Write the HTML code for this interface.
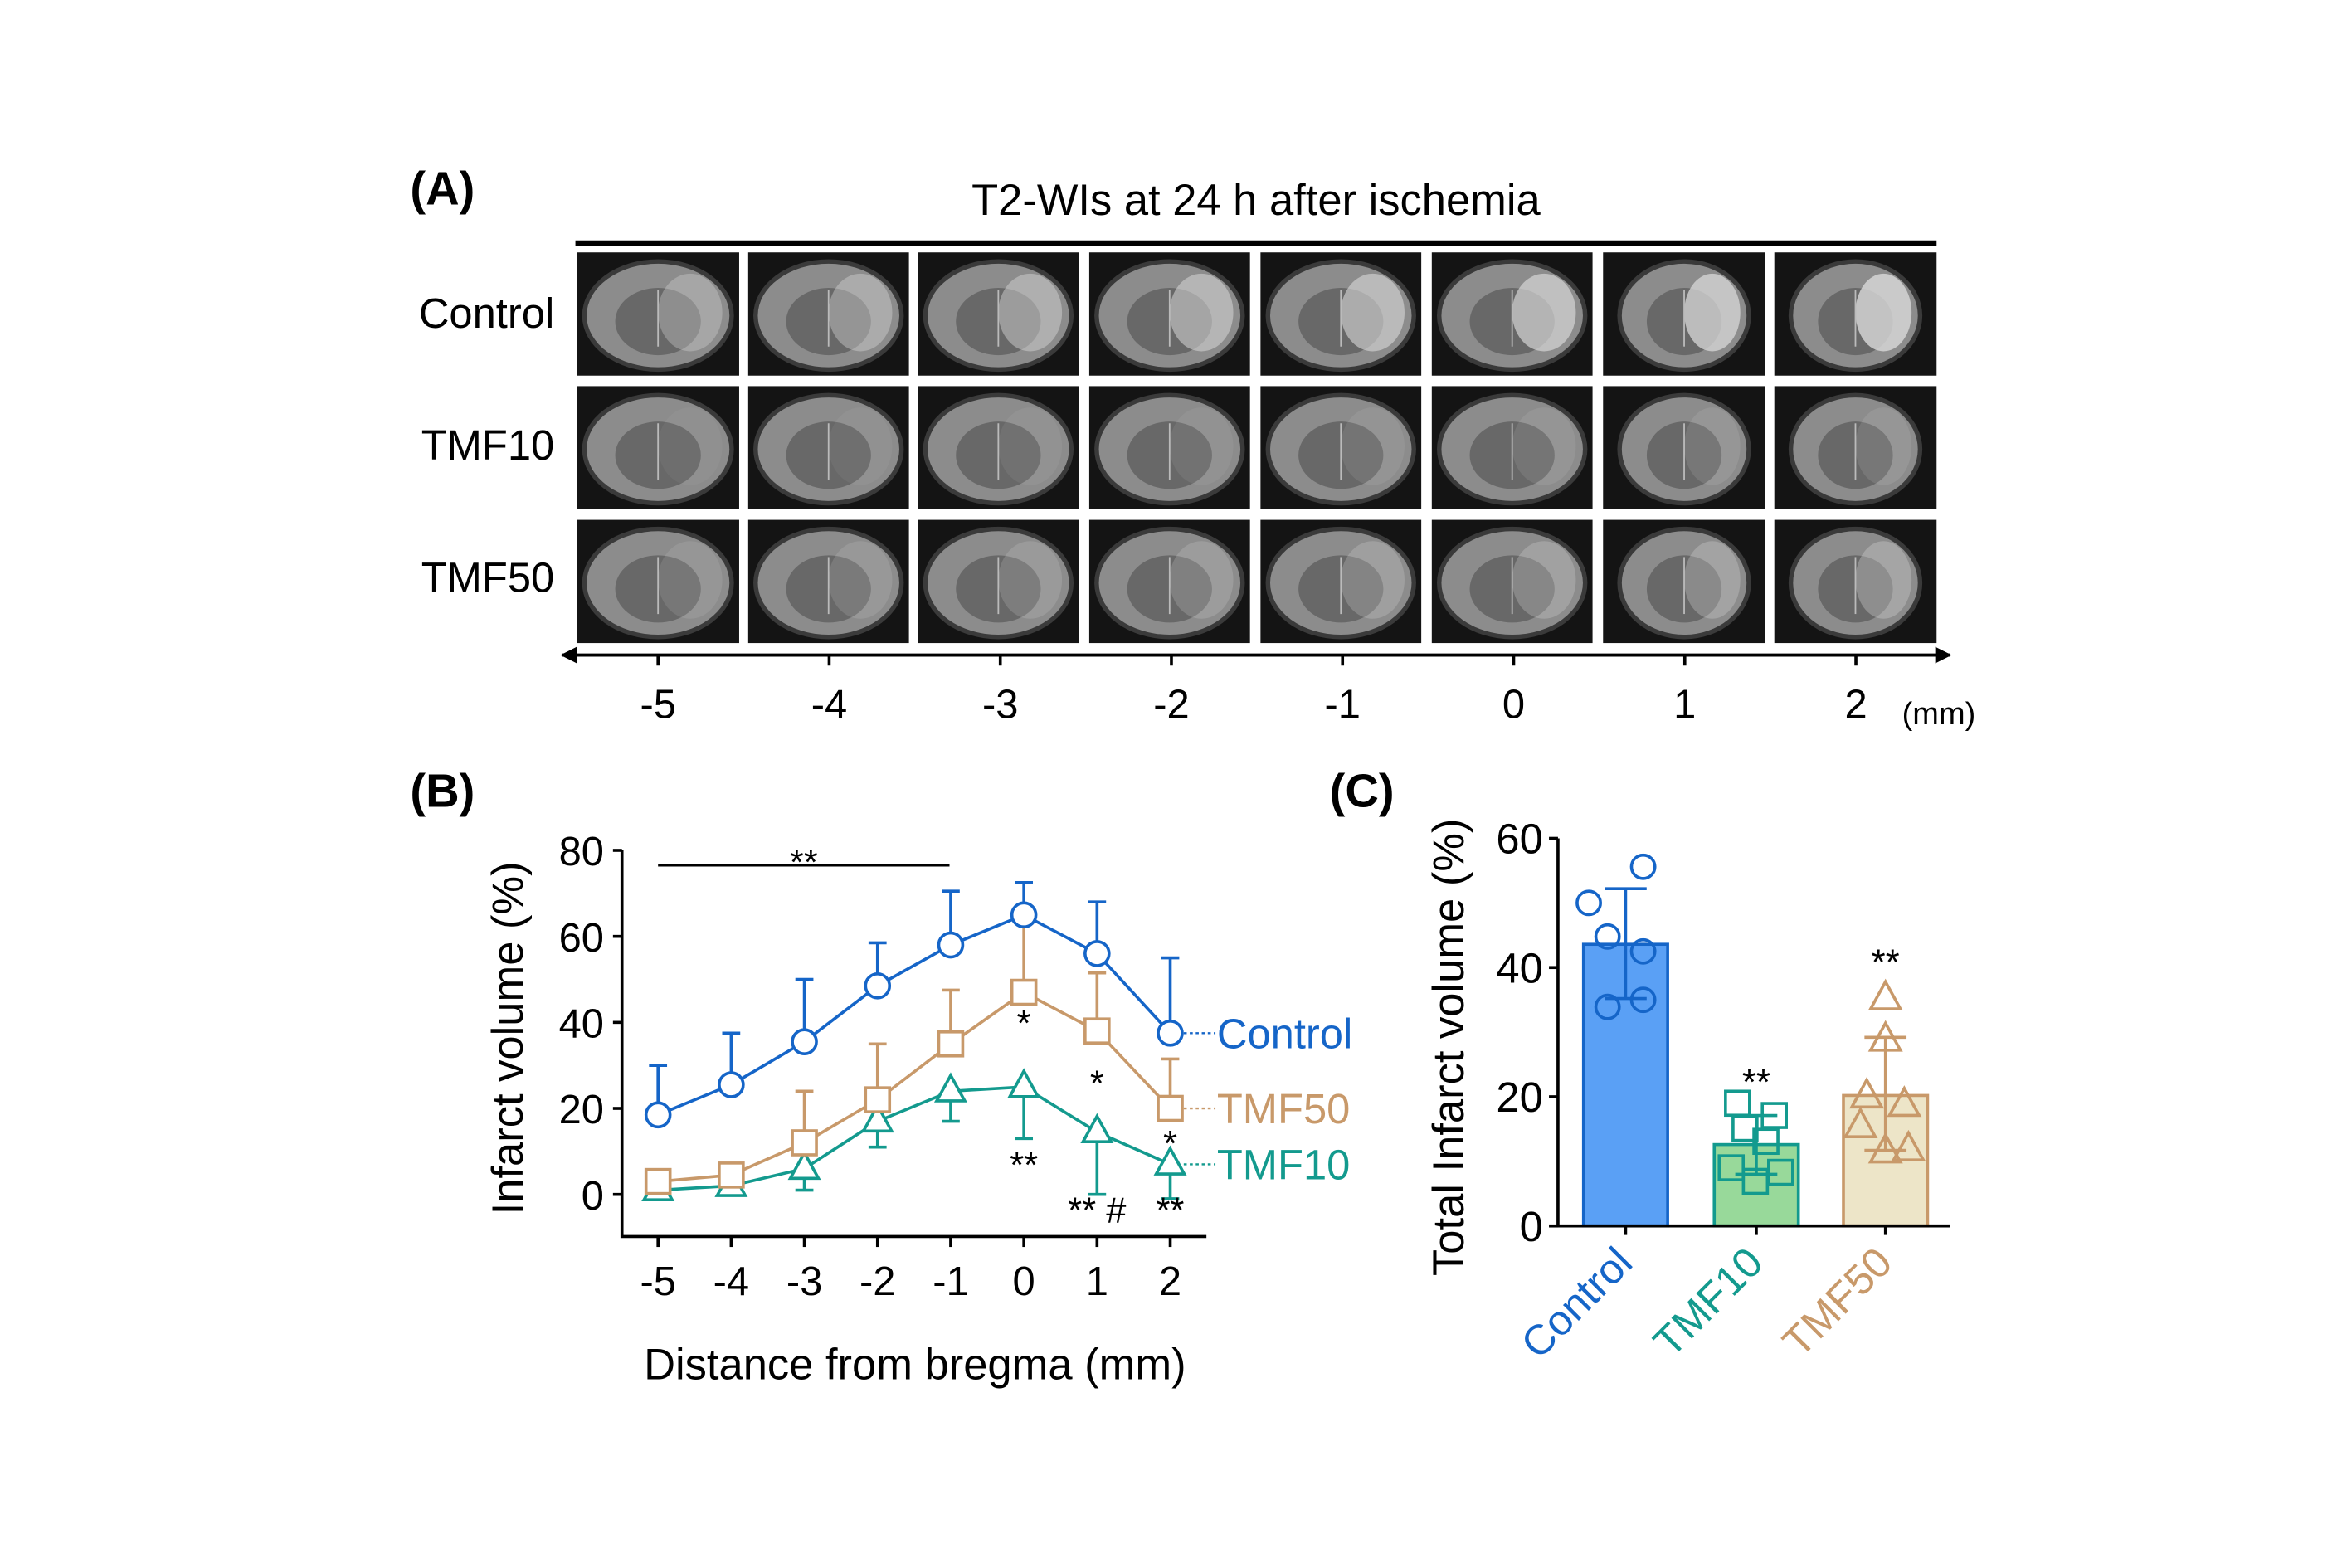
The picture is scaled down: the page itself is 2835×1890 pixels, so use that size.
<!DOCTYPE html>
<html><head><meta charset="utf-8">
<style>
html,body{margin:0;padding:0;background:#fff;}
svg{display:block;font-family:"Liberation Sans",Arial,sans-serif;}
</style></head>
<body>
<svg id="fig" width="2835" height="1890" viewBox="0 0 1565.5 1043.66" xmlns="http://www.w3.org/2000/svg">
<defs>
<marker id="ah" viewBox="0 0 10 10" refX="9" refY="5" markerWidth="5" markerHeight="5" orient="auto-start-reverse"><path d="M0,0 L10,5 L0,10 z" fill="#000"/></marker>
</defs>
<g id="panelA">
<text x="273" y="136" font-size="31" font-weight="bold">(A)</text>
<text x="836" y="143" font-size="29" text-anchor="middle">T2-WIs at 24 h after ischemia</text>
<rect x="383" y="160" width="906" height="4" fill="#000"/>
<text x="369" y="218" font-size="28" text-anchor="end">Control</text>
<text x="369" y="306" font-size="28" text-anchor="end">TMF10</text>
<text x="369" y="394" font-size="28" text-anchor="end">TMF50</text>
<g id="mri"></g>
<line x1="374" y1="436" x2="1298" y2="436" stroke="#000" stroke-width="2.2" marker-start="url(#ah)" marker-end="url(#ah)"/>
<g id="aticks"></g>
<text x="1266" y="482" font-size="21">(mm)</text>
</g>
<g id="panelB">
<text x="273" y="537" font-size="31" font-weight="bold">(B)</text>
</g>
<g id="panelC">
<text x="885" y="537" font-size="31" font-weight="bold">(C)</text>
</g>
</svg>
<script>
// ---- Panel B data ----
const distances = [-5,-4,-3,-2,-1,0,1,2];
const controlMean = [18.5,25.5,35.5,48.5,58,65,56,37.5];
const controlUpper = [30,37.5,50,58.5,70.5,72.5,68,55];
const tmf50Mean = [3,4.5,12,22,35,47,38,20];
const tmf50Upper = [5,6.5,24,35,47.5,63,51.5,31.5];
const tmf10Mean = [1,2,6,17,24,25,14.5,7];
const tmf10Lower = [1,2,1,11,17,13,0,-1];
const yTicksB = [0,20,40,60,80];
// ---- Panel C data ----
const groups = ['Control','TMF10','TMF50'];
const groupMeans = [43.6,12.6,20.2];
const groupSDhi = [52.2,17.1,29.2];
const groupSDlo = [35.2,8.0,11.7];
const controlPoints = [50.0,44.8,42.5,55.6,33.9,35.0];
const tmf10Points = [19.0,15.1,17.1,13.1,9.0,8.3,6.9];
const tmf50Points = [35.2,28.8,20.0,18.7,15.4,11.8,11.5];
const yTicksC = [0,20,40,60];
// ---- Panel A ----
const bregmaTicks = [-5,-4,-3,-2,-1,0,1,2];

const NS='http://www.w3.org/2000/svg';
function mk(tag, attrs, parent){const e=document.createElementNS(NS,tag);for(const k in attrs)e.setAttribute(k,attrs[k]);parent.appendChild(e);return e;}
const C_BLUE='#1565c8', C_TEAL='#139a8e', C_TAN='#c8996a';

// Panel A: MRI grid
const mri=document.getElementById('mri');
const colX=[384,498,611,725,839,953,1067,1181], colW=[108,107,107,107,107,107,108,108];
const rowY=[168,257,346], rowH=82;
const infarct=[0.85,0.15,0.35];
for(let r=0;r<3;r++)for(let c=0;c<8;c++){
 const g=mk('g',{},mri);
 
 
 const x=colX[c],y=rowY[r],w=colW[c];
 mk('rect',{x:x,y:y,width:w,height:rowH,fill:'#141414'},g);
 const cx=x+w/2, cy=y+rowH/2+1;
 const bw=w*0.44-(c>5?6:0), bh=rowH*0.42;
 mk('ellipse',{cx:cx,cy:cy,rx:bw+3,ry:bh+3,fill:'#3a3a3a'},g);
 mk('ellipse',{cx:cx,cy:cy,rx:bw,ry:bh,fill:'#8c8c8c'},g);
 mk('ellipse',{cx:cx,cy:cy+4,rx:bw*0.6,ry:bh*0.65,fill:'#686868'},g);
 mk('ellipse',{cx:cx+bw*0.45,cy:cy-2,rx:bw*0.45,ry:bh*0.75,fill:'#d8d8d8','fill-opacity':infarct[r]*(0.4+c*0.08)},g);
 mk('line',{x1:cx,y1:cy-bh*0.5,x2:cx,y2:cy+bh*0.6,stroke:'#bbb','stroke-width':1},g);
}
const at=document.getElementById('aticks');
const xA=d=>438+(d+5)*113.9;
bregmaTicks.forEach(d=>{
 const l=mk('line',{x1:xA(d),y1:436,x2:xA(d),y2:443,stroke:'#000','stroke-width':2},at);
 
 
 const t=mk('text',{x:xA(d),y:478,'font-size':27,'text-anchor':'middle'},at);
 
 
 t.textContent=d;
});

// Panel B
const pB=document.getElementById('panelB');
const xB=d=>438+(d+5)*48.7;
const yB=v=>795-v*2.8625;
let e;
e=mk('path',{d:`M414,566 V823 H803`,fill:'none',stroke:'#000','stroke-width':2},pB);


yTicksB.forEach(v=>{
 e=mk('line',{x1:408,y1:yB(v),x2:414,y2:yB(v),stroke:'#000','stroke-width':2},pB);
 
 
 e=mk('text',{x:402,y:yB(v)+10,'font-size':27,'text-anchor':'end'},pB);
 
 
 e.textContent=v;
});
distances.forEach(d=>{
 e=mk('line',{x1:xB(d),y1:823,x2:xB(d),y2:830,stroke:'#000','stroke-width':2},pB);
 
 
 e=mk('text',{x:xB(d),y:862,'font-size':27,'text-anchor':'middle'},pB);
 
 
 e.textContent=d;
});
e=mk('text',{x:609,y:918,'font-size':29,'text-anchor':'middle'},pB);


e.textContent='Distance from bregma (mm)';
e=mk('text',{x:0,y:0,'font-size':29,'text-anchor':'middle',transform:'translate(348,691) rotate(-90)'},pB);


e.textContent='Infarct volume (%)';
e=mk('line',{x1:438,y1:576,x2:632,y2:576,stroke:'#000','stroke-width':1.5},pB);


e=mk('text',{x:535,y:582,'font-size':24,'text-anchor':'middle'},pB);


e.textContent='**';

function errB(d,v1,v2,col){
 e=mk('path',{d:`M${xB(d)},${yB(v1)} V${yB(v2)} M${xB(d)-6},${yB(v2)} h12`,stroke:col,'stroke-width':2,fill:'none'},pB);
 
 
}
function lineB(arr,col,name){
 e=mk('polyline',{points:distances.map((d,i)=>xB(d)+','+yB(arr[i])).join(' '),fill:'none',stroke:col,'stroke-width':2},pB);
 
 
}
function tri(cx,cy,s,col,parent){return mk('path',{d:`M${cx},${cy-s*0.62} L${cx+s*0.55},${cy+s*0.38} L${cx-s*0.55},${cy+s*0.38} Z`,fill:'#fff',stroke:col,'stroke-width':2},parent);}
distances.forEach((d,i)=>{ if(tmf10Lower[i]<tmf10Mean[i]-1.5) errB(d,tmf10Mean[i],tmf10Lower[i],C_TEAL); });
lineB(tmf10Mean,C_TEAL,'tmf10-line');
distances.forEach((d,i)=>{ if(tmf50Upper[i]>tmf50Mean[i]+2) errB(d,tmf50Mean[i],tmf50Upper[i],C_TAN); });
lineB(tmf50Mean,C_TAN,'tmf50-line');
distances.forEach((d,i)=>errB(d,controlMean[i],controlUpper[i],C_BLUE));
lineB(controlMean,C_BLUE,'control-line');
distances.forEach((d,i)=>{
 e=tri(xB(d),yB(tmf10Mean[i]),17,C_TEAL,pB);
 
 
 e=mk('rect',{x:xB(d)-8,y:yB(tmf50Mean[i])-8,width:16,height:16,fill:'#fff',stroke:C_TAN,'stroke-width':2},pB);
 
 
 e=mk('circle',{cx:xB(d),cy:yB(controlMean[i]),r:8,fill:'#fff',stroke:C_BLUE,'stroke-width':2},pB);
 
 
});
function ann(d,v,txt){
 e=mk('text',{x:xB(d),y:yB(v),'font-size':24,'text-anchor':'middle'},pB);
 
 
 e.textContent=txt;
}
ann(0,37,'*');ann(1,23,'*');ann(2,9,'*');ann(0,4,'**');ann(1,-6.5,'** #');ann(2,-6.5,'**');
function legend(v,txt,col,name){
 e=mk('line',{x1:xB(2)+9,y1:yB(v),x2:809,y2:yB(v),stroke:col,'stroke-width':1.3,'stroke-dasharray':'2,2'},pB);
 
 
 e=mk('text',{x:810,y:yB(v)+10,'font-size':28,fill:col},pB);
 
 
 e.textContent=txt;
}
legend(controlMean[7],'Control',C_BLUE,'control');
legend(tmf50Mean[7],'TMF50',C_TAN,'tmf50');
legend(tmf10Mean[7],'TMF10',C_TEAL,'tmf10');

// Panel C
const pC=document.getElementById('panelC');
const yC=v=>816-v*4.3;
const barX=[1082,1169,1255];
const fills=['#5aa0f5','#98d99a','#ede5c8'], strokes=[C_BLUE,C_TEAL,C_TAN];
const jitter=[[-24.5,-12,11.7,11.7,-12,11.7],[-12.5,-7.5,12,6.4,-16.7,16.2,-0.6],[0,0,-12.5,12.5,-16.7,15.3,0]];
const pts=[controlPoints,tmf10Points,tmf50Points];
groups.forEach((g,i)=>{
 e=mk('rect',{x:barX[i]-28,y:yC(groupMeans[i]),width:56,height:yC(0)-yC(groupMeans[i]),fill:fills[i],stroke:strokes[i],'stroke-width':2},pC);
 
 
});
e=mk('path',{d:`M1037,558 V816 H1298`,fill:'none',stroke:'#000','stroke-width':2},pC);


yTicksC.forEach(v=>{
 e=mk('line',{x1:1031,y1:yC(v),x2:1037,y2:yC(v),stroke:'#000','stroke-width':2},pC);
 
 
 e=mk('text',{x:1027,y:yC(v)+10,'font-size':28,'text-anchor':'end'},pC);
 
 
 e.textContent=v;
});
e=mk('text',{x:0,y:0,'font-size':29,'text-anchor':'middle',transform:'translate(974,697) rotate(-90)'},pC);


e.textContent='Total Infarct volume (%)';
groups.forEach((g,i)=>{
 e=mk('line',{x1:barX[i],y1:816,x2:barX[i],y2:822,stroke:'#000','stroke-width':2},pC);
 
 
 e=mk('text',{x:0,y:0,'font-size':28,'text-anchor':'end',fill:strokes[i],transform:`translate(${barX[i]+6},${842}) rotate(-45)`},pC);
 
 
 e.textContent=g;
 pts[i].forEach((v,j)=>{
  const cx=barX[i]+jitter[i][j], cy=yC(v);
  if(i===0) e=mk('circle',{cx:cx,cy:cy,r:7.8,fill:'none',stroke:strokes[i],'stroke-width':2},pC);
  else if(i===1) e=mk('rect',{x:cx-8,y:cy-8,width:16,height:16,fill:'none',stroke:strokes[i],'stroke-width':2},pC);
  else {e=tri(cx,cy,18,strokes[i],pC); e.setAttribute('fill','none');}
  
  
 });
 e=mk('path',{d:`M${barX[i]},${yC(groupSDlo[i])} V${yC(groupSDhi[i])} M${barX[i]-14},${yC(groupSDhi[i])} h28 M${barX[i]-14},${yC(groupSDlo[i])} h28`,stroke:strokes[i],'stroke-width':2,fill:'none'},pC);
 
 
});
[[1,22.5],[2,41]].forEach(([i,v])=>{
 e=mk('text',{x:barX[i],y:yC(v)+9,'font-size':24,'text-anchor':'middle'},pC);
 
 
 e.textContent='**';
});
</script>
</body></html>
